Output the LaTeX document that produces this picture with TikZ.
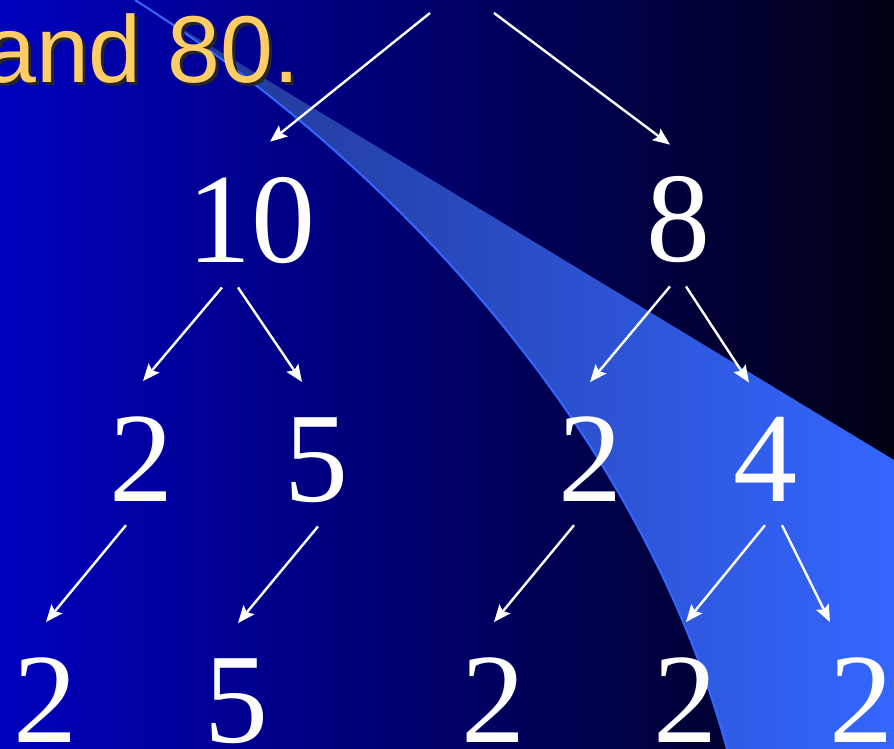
\documentclass[tikz,border=0pt]{standalone}
\usepackage{fontspec}
\newfontfamily\numfont{Liberation Serif}
\newfontfamily\headfont{Liberation Sans}
\usepackage{tikz}
\usetikzlibrary{arrows.meta, calc}

\definecolor{bgleft}{RGB}{0,0,190}
\definecolor{bgright}{RGB}{0,0,18}
\definecolor{swooshdark}{RGB}{32,52,140}
\definecolor{swooshlight}{RGB}{52,102,255}
\definecolor{headyellow}{RGB}{255,204,102}

\begin{document}
\begin{tikzpicture}[x=1pt, y=-1pt,
  num/.style={font=\fontsize{128}{128}\selectfont\numfont, text=white, inner sep=0pt, anchor=base},
  head/.style={font=\fontsize{95}{95}\selectfont\headfont, inner sep=0pt, anchor=base west},
  arr/.style={draw=white, line width=2.4pt, -{Stealth[length=17pt, width=14pt, inset=3pt]}}]
\useasboundingbox (0,0) rectangle (894,749);

% Background
\shade[left color=bgleft, right color=bgright] (0,0) rectangle (894,749);

% Swoosh
\shade[left color=swooshdark, right color=swooshlight]
  (135,0) .. controls (382,157) and (637,420) .. (727,749) -- (894,749) -- (894,460) -- cycle;
\draw[swooshlight, line width=2pt] (135,0) .. controls (382,157) and (637,420) .. (727,749);

% Heading (cut at the left edge)
\node[head, text=black!85] (headshadow) at (-14,86) {and 80.};
\node[head, text=headyellow] (headtext) at (-17,83) {and 80.};

% Factor tree
\coordinate (rootL) at (430,13);
\coordinate (rootR) at (494,13);

\node[num] (ten)   at (251,262) {10};
\node[num] (eight) at (678,261) {8};

\node[num] (tenL)   at (141,501) {2};
\node[num] (tenR)   at (316,501) {5};
\node[num] (eightL) at (590,501) {2};
\node[num] (eightR) at (765,501) {4};

\node[num] (tenLL)   at (45,742)  {2};
\node[num] (tenRL)   at (236,742) {5};
\node[num] (eightLL) at (493,742) {2};
\node[num] (eightRL) at (685,742) {2};
\node[num] (eightRR) at (861,742) {2};

% Arrows
\draw[arr] (rootL) -- ([shift={(19,-35)}]ten.north);
\draw[arr] (rootR) -- ([shift={(-8,-31)}]eight.north);
\draw[arr] ([shift={(-29,24)}]ten.south) -- ([shift={(2,-35)}]tenL.north);
\draw[arr] ([shift={(-13,24)}]ten.south) -- ([shift={(-14,-35)}]tenR.north);
\draw[arr] ([shift={(-8,24)}]eight.south) -- ([shift={(0,-34)}]eightL.north);
\draw[arr] ([shift={(8,24)}]eight.south) -- ([shift={(-16,-34)}]eightR.north);
\draw[arr] ([shift={(-15,24)}]tenL.south) -- ([shift={(1,-35)}]tenLL.north);
\draw[arr] ([shift={(2,24)}]tenR.south) -- ([shift={(2,-35)}]tenRL.north);
\draw[arr] ([shift={(-16,24)}]eightL.south) -- ([shift={(1,-35)}]eightLL.north);
\draw[arr] ([shift={(0,24)}]eightR.south) -- ([shift={(1,-35)}]eightRL.north);
\draw[arr] ([shift={(17,24)}]eightR.south) -- ([shift={(-31,-35)}]eightRR.north);
\end{tikzpicture}
\end{document}
